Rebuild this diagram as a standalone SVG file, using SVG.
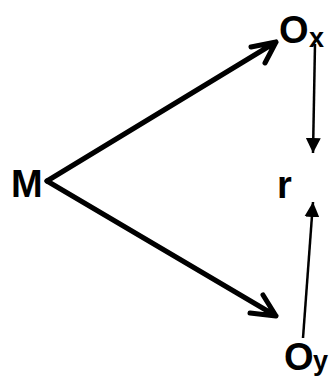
<svg xmlns="http://www.w3.org/2000/svg" width="332" height="379" viewBox="0 0 332 379">
<style>
.lbl{font-family:"Liberation Sans",Arial,sans-serif;font-weight:bold;fill:#000}
.thick{stroke:#000;stroke-width:5;fill:none;stroke-linecap:round;stroke-linejoin:round}
.thin{stroke:#000;stroke-width:2.5;fill:none}
</style>
<defs>
<marker id="tri" viewBox="0 0 10 10" refX="10" refY="5" markerWidth="6" markerHeight="6" markerUnits="strokeWidth" orient="auto">
<path d="M0,0 L10,5 L0,10 z" fill="#000"/>
</marker>
</defs>
<rect width="332" height="379" fill="#fff"/>
<g id="M"><text class="lbl" x="11" y="197" font-size="38">M</text></g>
<g id="Ox"><text class="lbl" x="279" y="43" font-size="38">O</text><text class="lbl" x="309" y="47" font-size="27">x</text></g>
<g id="r"><text class="lbl" x="277" y="198" font-size="38">r</text></g>
<g id="Oy"><text class="lbl" x="284" y="370" font-size="38">O</text><text class="lbl" x="313" y="370" font-size="27">y</text></g>
<g id="connectors">
<path class="thick" d="M47,181 L276,42 M251,47 L276,42 L265,63"/>
<path class="thick" d="M47,181 L276,316 M250,313 L276,316 L263,295"/>
<line class="thin" x1="315" y1="44" x2="313" y2="153" marker-end="url(#tri)"/>
<line class="thin" x1="303" y1="338" x2="313" y2="202" marker-end="url(#tri)"/>
</g>
</svg>
